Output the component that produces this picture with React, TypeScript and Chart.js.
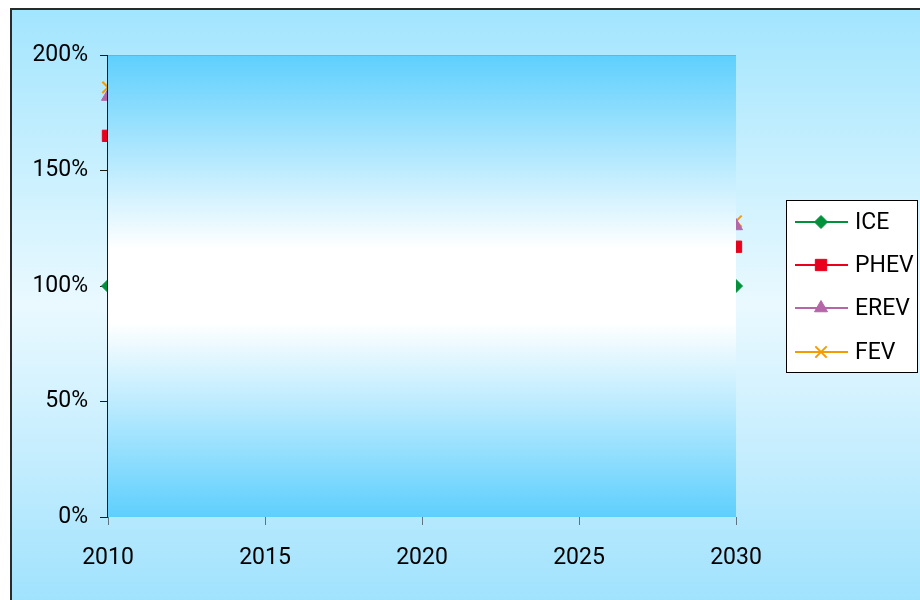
import React, { useEffect, useRef } from 'react';
import { Chart, registerables } from 'chart.js';
import { drawPoint } from 'chart.js/helpers';

Chart.register(...registerables);

// Relative cost index per drivetrain, first and last year of the horizon
const years = [2010, 2030];
const seriesNames = ['ICE', 'PHEV', 'EREV', 'FEV'];
const iceValues = [100, 100];
const phevValues = [165, 117];
const erevValues = [182, 126];
const fevValues = [186, 128];
const xTicks = [2010, 2015, 2020, 2025, 2030];
const yTicks = [0, 50, 100, 150, 200];

const FONT = 'Roboto, "Liberation Sans", Arial, sans-serif';

const seriesStyles = [
  { color: '#00913a', pointStyle: 'rectRot', radius: 6.5, borderWidth: 1 },
  { color: '#e8001c', pointStyle: 'rect', radius: 8, borderWidth: 1 },
  { color: '#b566a8', pointStyle: 'triangle', radius: 7.5, borderWidth: 1 },
  { color: '#f39c00', pointStyle: 'crossRot', radius: 8, borderWidth: 2 },
];

const seriesValues = [iceValues, phevValues, erevValues, fevValues];

// Light sky backdrop with the framed chart border
const backdrop = {
  id: 'backdrop',
  beforeDraw(chart: any) {
    const { ctx, width, height } = chart;
    ctx.save();
    ctx.fillStyle = '#ffffff';
    ctx.fillRect(0, 0, width, height);
    const g = ctx.createLinearGradient(0, 8, 0, height + 2);
    g.addColorStop(0, '#a2e5fe');
    g.addColorStop(0.5, '#eaf9ff');
    g.addColorStop(1, '#a0e2fd');
    ctx.fillStyle = g;
    ctx.fillRect(10, 8, width, height);
    ctx.strokeStyle = '#2a2a2a';
    ctx.lineWidth = 2;
    ctx.beginPath();
    ctx.moveTo(11, height + 2);
    ctx.lineTo(11, 9);
    ctx.lineTo(width + 2, 9);
    ctx.stroke();
    ctx.restore();
  },
};

// Plot-area fill painted over the series, then the value axis line
const plotCover = {
  id: 'plotCover',
  afterDatasetsDraw(chart: any) {
    const { ctx, chartArea: a } = chart;
    ctx.save();
    const g = ctx.createLinearGradient(0, a.top, 0, a.bottom);
    g.addColorStop(0, '#5ecffd');
    g.addColorStop(0.42, '#ffffff');
    g.addColorStop(0.58, '#ffffff');
    g.addColorStop(1, '#5ecffd');
    ctx.fillStyle = g;
    ctx.fillRect(a.left, a.top, a.right - a.left, a.bottom - a.top);
    ctx.strokeStyle = '#8aa9b8';
    ctx.lineWidth = 1;
    ctx.beginPath();
    ctx.moveTo(a.left, a.top + 0.5);
    ctx.lineTo(a.right, a.top + 0.5);
    ctx.stroke();
    ctx.strokeStyle = '#1a1a1a';
    ctx.beginPath();
    ctx.moveTo(a.left - 0.5, a.top);
    ctx.lineTo(a.left - 0.5, a.bottom);
    ctx.stroke();
    ctx.restore();
  },
};

// Boxed legend with line + marker samples
const legendBox = {
  id: 'legendBox',
  afterDraw(chart: any) {
    const { ctx } = chart;
    const boxX = 786.5;
    const boxY = 200.5;
    const boxW = 131;
    const boxH = 172;
    const rows = [222, 265, 308, 352];
    ctx.save();
    ctx.fillStyle = '#ffffff';
    ctx.fillRect(boxX, boxY, boxW, boxH);
    ctx.strokeStyle = '#000000';
    ctx.lineWidth = 1;
    ctx.strokeRect(boxX, boxY, boxW, boxH);
    seriesNames.forEach((name, i) => {
      const s = seriesStyles[i];
      const y = rows[i];
      ctx.strokeStyle = s.color;
      ctx.lineWidth = 2;
      ctx.beginPath();
      ctx.moveTo(795, y);
      ctx.lineTo(848, y);
      ctx.stroke();
      ctx.fillStyle = s.color;
      ctx.strokeStyle = s.color;
      ctx.lineWidth = s.borderWidth;
      drawPoint(ctx, { pointStyle: s.pointStyle, radius: s.radius, rotation: 0, borderWidth: s.borderWidth } as any, 821, y);
      ctx.fillStyle = '#000000';
      ctx.font = `23px ${FONT}`;
      ctx.textBaseline = 'middle';
      ctx.textAlign = 'left';
      ctx.fillText(name, 855, y + 1);
    });
    ctx.restore();
  },
};

export default function App() {
  const ref = useRef<HTMLCanvasElement>(null);

  useEffect(() => {
    document.body.style.margin = '0';
    const canvas = ref.current;
    if (!canvas) return;

    const datasets = seriesNames.map((name, i) => {
      const s = seriesStyles[i];
      return {
        label: name,
        data: years.map((yr, j) => ({ x: yr, y: seriesValues[i][j] })),
        borderColor: s.color,
        backgroundColor: s.color,
        borderWidth: 2,
        pointStyle: s.pointStyle as any,
        pointRadius: s.radius,
        pointBackgroundColor: s.color,
        pointBorderColor: s.color,
        pointBorderWidth: s.borderWidth,
        showLine: true,
        clip: false as any,
      };
    });

    const chart = new Chart(canvas, {
      type: 'line',
      data: { datasets },
      plugins: [backdrop, plotCover, legendBox],
      options: {
        responsive: false,
        animation: false,
        devicePixelRatio: 1,
        layout: { padding: { left: 0, top: 55, right: 184, bottom: 0 } },
        plugins: {
          legend: { display: false },
          tooltip: { enabled: false },
          title: { display: false },
        },
        scales: {
          x: {
            type: 'linear',
            min: xTicks[0],
            max: xTicks[xTicks.length - 1],
            afterBuildTicks: (scale: any) => {
              scale.ticks = xTicks.map((v) => ({ value: v }));
            },
            afterFit: (scale: any) => {
              scale.height = 83;
            },
            border: { display: false },
            grid: {
              drawOnChartArea: false,
              drawTicks: true,
              tickLength: 8,
              color: '#5f7380',
            },
            ticks: {
              color: '#000000',
              padding: 19,
              maxRotation: 0,
              autoSkip: false,
              font: { family: FONT, size: 23 },
              callback: (v: any) => String(v),
            },
          },
          y: {
            type: 'linear',
            min: yTicks[0],
            max: yTicks[yTicks.length - 1],
            afterBuildTicks: (scale: any) => {
              scale.ticks = yTicks.map((v) => ({ value: v }));
            },
            afterFit: (scale: any) => {
              scale.width = 108;
            },
            border: { display: false },
            grid: {
              drawOnChartArea: false,
              drawTicks: true,
              tickLength: 8,
              color: '#1a1a1a',
            },
            ticks: {
              color: '#000000',
              padding: 12,
              autoSkip: false,
              font: { family: FONT, size: 23 },
              callback: (v: any) => `${v}%`,
            },
          },
        },
      },
    });

    return () => chart.destroy();
  }, []);

  return (
    <div style={{ width: 920, height: 600 }}>
      <canvas ref={ref} width={920} height={600} style={{ display: 'block' }} />
    </div>
  );
}
